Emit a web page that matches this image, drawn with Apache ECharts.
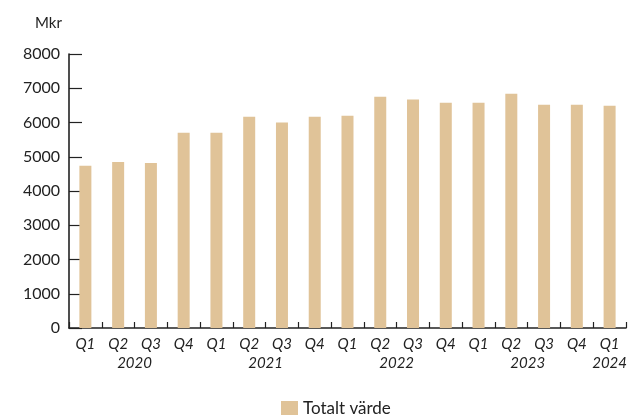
<!DOCTYPE html>
<html><head><meta charset="utf-8">
<script src="https://cdn.jsdelivr.net/npm/echarts@6/dist/echarts.min.js"></script>
<style>html,body{margin:0;padding:0;background:#fff}#c{width:630px;height:415px}</style>
</head><body><div id="c"></div>
<script>
const quarters = ['Q1','Q2','Q3','Q4','Q1','Q2','Q3','Q4','Q1','Q2','Q3','Q4','Q1','Q2','Q3','Q4','Q1'];
const quarterYears = ['2020','2020','2020','2020','2021','2021','2021','2021','2022','2022','2022','2022','2023','2023','2023','2023','2024'];
const totaltVarde = [4740,4850,4820,5700,5700,6170,6000,6170,6200,6750,6670,6580,6580,6840,6520,6520,6490];
const yTicks = [0,1000,2000,3000,4000,5000,6000,7000,8000];
const seriesName = 'Totalt värde';
const unitLabel = 'Mkr';

// Year labels centred under each year's quarters, on a half-quarter grid
const n = quarters.length;
const halfSteps = [];
for (let i = 0; i <= 2 * n; i++) halfSteps.push('');
const seen = {};
quarterYears.forEach((y, i) => { (seen[y] = seen[y] || []).push(i); });
Object.keys(seen).forEach(y => {
  const idx = seen[y];
  const mid = (idx[0] + idx[idx.length - 1] + 1) / 2; // in quarter units
  halfSteps[Math.round(mid * 2)] = y;
});
const yearCats = halfSteps.map((v, i) => ({ value: 'h' + i, label: v }));
const yearLabelMap = {};
yearCats.forEach(c => yearLabelMap[c.value] = c.label);

const font = 'Lato, "Open Sans", sans-serif';
const chart = echarts.init(document.getElementById('c'), null, { renderer: 'canvas' });
chart.setOption({
  animation: false,
  title: {
    text: unitLabel, left: 30, top: 11,
    textStyle: { fontFamily: font, fontSize: 15, fontWeight: 'normal', color: '#222' }
  },
  legend: {
    data: [seriesName], left: 281, top: 400, padding: 0,
    itemWidth: 17, itemHeight: 15, itemGap: 8,
    icon: 'rect',
    textStyle: { fontFamily: font, fontSize: 17, color: '#222' }
  },
  grid: { left: 69, right: 0, top: 54, bottom: 87, containLabel: false },
  xAxis: [
    {
      type: 'category', data: quarters, position: 'bottom',
      axisLine: { lineStyle: { color: '#222', width: 1.6 } },
      axisTick: { show: true, inside: true, length: 6, lineStyle: { color: '#222', width: 1.2 } },
      axisLabel: { interval: 0, margin: 9, fontFamily: font, fontStyle: 'italic', fontSize: 15, color: '#222' }
    },
    {
      type: 'category', data: yearCats.map(c => c.value), position: 'bottom',
      boundaryGap: false, offset: 0,
      axisLine: { show: false }, axisTick: { show: false },
      axisLabel: {
        interval: 0, margin: 28, fontFamily: font, fontStyle: 'italic', fontSize: 15, color: '#222',
        formatter: v => yearLabelMap[v] || ''
      }
    }
  ],
  yAxis: {
    type: 'value', min: yTicks[0], max: yTicks[yTicks.length - 1], interval: 1000,
    axisLine: { show: true, lineStyle: { color: '#222', width: 1.6 } },
    axisTick: { show: true, inside: true, length: 13, lineStyle: { color: '#222', width: 1.2 } },
    splitLine: { show: false },
    axisLabel: { margin: 9, fontFamily: font, fontSize: 16, color: '#222', formatter: v => String(v) }
  },
  series: [{
    name: seriesName, type: 'bar', data: totaltVarde, xAxisIndex: 0,
    barWidth: 12, itemStyle: { color: '#E0C398' }
  }]
});
</script></body></html>
